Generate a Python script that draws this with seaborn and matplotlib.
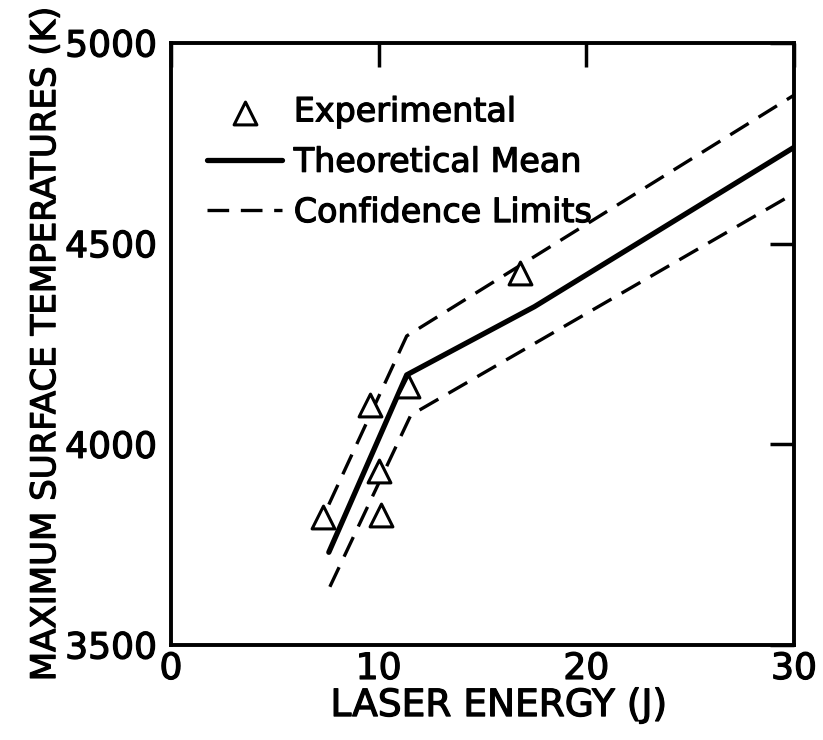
import matplotlib
matplotlib.use('Agg')
import matplotlib.pyplot as plt
import matplotlib.patheffects as pe
import seaborn as sns

# ---- data ----
exp_x = [7.3, 9.6, 10.0, 10.1, 11.4, 16.8]
exp_y = [3818, 4098, 3933, 3823, 4146, 4426]

mean_x = [7.6, 11.35, 17.5, 30.0]
mean_y = [3731, 4173, 4343, 4740]

upper_x = [7.6, 11.35, 30.0]
upper_y = [3850, 4270, 4870]

lower_x = [7.65, 11.55, 30.0]
lower_y = [3645, 4073, 4625]

x_ticks = [0, 10, 20, 30]
y_ticks = [3500, 4000, 4500, 5000]

x_label = "LASER ENERGY (J)"
y_label = "MAXIMUM SURFACE TEMPERATURES (K)"

sns.set_theme(style='white')
plt.rcParams['font.family'] = ['DejaVu Sans']

W, H = 823, 740
fig = plt.figure(figsize=(W / 100, H / 100), dpi=100)
fig.patch.set_facecolor('white')
ax = fig.add_axes([171 / W, 1 - 645 / H, (794 - 171) / W, (645 - 43) / H])

dash = (0, (6.5, 3.5))
sns.lineplot(x=upper_x, y=upper_y, ax=ax, color='black', linewidth=2.4,
             linestyle=dash, label='Confidence Limits', estimator=None, sort=False)
sns.lineplot(x=lower_x, y=lower_y, ax=ax, color='black', linewidth=2.4,
             linestyle=dash, label='_nolegend_', estimator=None, sort=False)
sns.lineplot(x=mean_x, y=mean_y, ax=ax, color='black', linewidth=3.8,
             label='Theoretical Mean', estimator=None, sort=False)
sns.scatterplot(x=exp_x, y=exp_y, ax=ax, marker='^', s=270, facecolor='white',
                edgecolor='black', linewidth=2.2, label='Experimental', zorder=5)

ax.set_xlim(0, 30)
ax.set_ylim(3500, 5000)
ax.set_xticks(x_ticks)
ax.set_yticks(y_ticks)
ax.set_xticklabels([str(t) for t in x_ticks])
ax.set_yticklabels([str(t) for t in y_ticks])

for s in ax.spines.values():
    s.set_visible(True)
    s.set_color('black')
    s.set_linewidth(2.8)

ax.tick_params(axis='both', which='major', direction='in', length=17, width=2.5,
               top=True, right=True, color='black', labelcolor='black', labelsize=26)
ax.tick_params(axis='x', pad=5)
ax.tick_params(axis='y', pad=10)

ax.set_xlabel(x_label, fontsize=27, color='black')
ax.xaxis.set_label_coords(0.526, -0.118, transform=ax.transAxes)
ax.xaxis.label.set_verticalalignment('baseline')
ax.set_ylabel(y_label, fontsize=24.5, color='black')
ax.yaxis.set_label_coords(-0.186, 0.5, transform=ax.transAxes)
ax.yaxis.label.set_verticalalignment('baseline')
ax.grid(False)

handles, labels = ax.get_legend_handles_labels()
order = ['Experimental', 'Theoretical Mean', 'Confidence Limits']
hmap = dict(zip(labels, handles))
leg = ax.legend([hmap[k] for k in order], order, loc='upper left',
                bbox_to_anchor=(0.058, 0.913), frameon=False, fontsize=24,
                handlelength=2.25, handletextpad=0.35, labelspacing=0.52,
                borderpad=0, borderaxespad=0, scatterpoints=1)

# heavier lettering like the original drafting-style text
stroke = [pe.withStroke(linewidth=0.9, foreground='black')]
texts = list(leg.get_texts()) + ax.get_xticklabels() + ax.get_yticklabels() + \
    [ax.xaxis.label, ax.yaxis.label]
for t in texts:
    t.set_color('black')
    t.set_path_effects(stroke)

fig.savefig('out.png', dpi=100, facecolor='white')
